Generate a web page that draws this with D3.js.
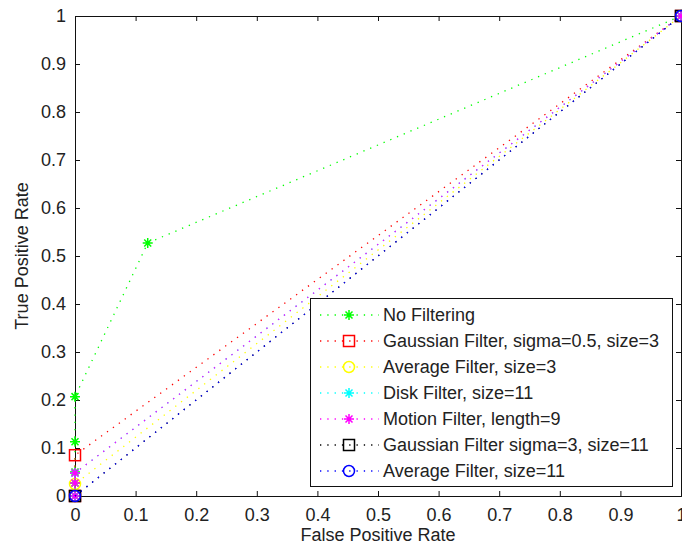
<!DOCTYPE html>
<html>
<head>
<meta charset="utf-8">
<script src="https://cdn.jsdelivr.net/npm/d3@7"></script>
<style>
  body { margin: 0; background: #fff; }
  text { font-family: "Liberation Sans", Arial, sans-serif; fill: #222; }
</style>
</head>
<body>
<div id="chart"></div>
<script>
// ROC curves, one array per series
var seriesNames = ["No Filtering", "Gaussian Filter, sigma=0.5, size=3", "Average Filter, size=3",
  "Disk Filter, size=11", "Motion Filter, length=9", "Gaussian Filter sigma=3, size=11", "Average Filter, size=11"];
var seriesColors = ["#00ff00", "#ff0000", "#ffff00", "#00ffff", "#ff00ff", "#000000", "#0000ff"];
var seriesMarkers = ["star", "square", "circle", "star", "star", "square", "circle"];

var fprNoFilter = [0, 0, 0, 0, 0, 0.12, 1];
var tprNoFilter = [0, 0.027, 0.05, 0.113, 0.207, 0.527, 1];
var fprGauss05 = [0, 0, 1];
var tprGauss05 = [0, 0.085, 1];
var fprAvg3 = [0, 0, 1];
var tprAvg3 = [0, 0.025, 1];
var fprDisk = [0, 0, 1];
var tprDisk = [0, 0.048, 1];
var fprMotion = [0, 0, 0, 1];
var tprMotion = [0, 0.027, 0.048, 1];
var fprGauss3 = [0, 1];
var tprGauss3 = [0, 1];
var fprAvg11 = [0, 1];
var tprAvg11 = [0, 1];

var allFpr = [fprNoFilter, fprGauss05, fprAvg3, fprDisk, fprMotion, fprGauss3, fprAvg11];
var allTpr = [tprNoFilter, tprGauss05, tprAvg3, tprDisk, tprMotion, tprGauss3, tprAvg11];

var tickValues = [0, 0.1, 0.2, 0.3, 0.4, 0.5, 0.6, 0.7, 0.8, 0.9, 1];

var w = 682, h = 550;
var m = { left: 75, right: 681, top: 16, bottom: 496 };

var svg = d3.select("#chart").append("svg")
  .attr("width", w)
  .attr("height", h);

var xScale = d3.scaleLinear().domain([0, 1]).range([m.left, m.right]);
var yScale = d3.scaleLinear().domain([0, 1]).range([m.bottom, m.top]);

var fmt = function(d) { return d === 0 ? "0" : d === 1 ? "1" : d3.format(".1f")(d); };

// axes, MATLAB style: ticks pointing inward, box on all sides
svg.append("g")
  .attr("class", "x axis")
  .attr("transform", "translate(0," + m.bottom + ")")
  .call(d3.axisBottom(xScale).tickValues(tickValues).tickSize(-5).tickPadding(12).tickFormat(fmt));
svg.append("g")
  .attr("class", "x axis top")
  .attr("transform", "translate(0," + m.top + ")")
  .call(d3.axisTop(xScale).tickValues(tickValues).tickSize(-5).tickFormat(""));
svg.append("g")
  .attr("class", "y axis")
  .attr("transform", "translate(" + m.left + ",0)")
  .call(d3.axisLeft(yScale).tickValues(tickValues).tickSize(-5).tickPadding(9).tickFormat(fmt));
svg.append("g")
  .attr("class", "y axis right")
  .attr("transform", "translate(" + m.right + ",0)")
  .call(d3.axisRight(yScale).tickValues(tickValues).tickSize(-5).tickFormat(""));

svg.selectAll(".axis path, .axis line").attr("stroke", "#111").attr("stroke-width", 1);
svg.selectAll(".axis text").attr("font-size", "18px").attr("fill", "#222")
  .attr("font-family", "Liberation Sans, Arial, sans-serif");

// draw a marker at (x, y)
function drawMarker(g, type, x, y, color) {
  if (type === "star") {
    var p = "M" + (x - 5) + "," + y + "H" + (x + 5) + "M" + x + "," + (y - 5) + "V" + (y + 5) +
      "M" + (x - 3.5) + "," + (y - 3.5) + "L" + (x + 3.5) + "," + (y + 3.5) +
      "M" + (x - 3.5) + "," + (y + 3.5) + "L" + (x + 3.5) + "," + (y - 3.5);
    g.append("path").attr("d", p).attr("stroke", color).attr("stroke-width", 1.5).attr("fill", "none");
  } else if (type === "square") {
    g.append("rect").attr("x", x - 5.5).attr("y", y - 5.5).attr("width", 11).attr("height", 11)
      .attr("stroke", color).attr("stroke-width", 1.5).attr("fill", "none");
  } else {
    g.append("circle").attr("cx", x).attr("cy", y).attr("r", 5.5)
      .attr("stroke", color).attr("stroke-width", 1.5).attr("fill", "none");
  }
}

var line = d3.line()
  .x(function(d) { return xScale(d[0]); })
  .y(function(d) { return yScale(d[1]); });

var plot = svg.append("g").attr("class", "plot");

seriesNames.forEach(function(name, i) {
  var pts = allFpr[i].map(function(x, j) { return [x, allTpr[i][j]]; });
  plot.append("path")
    .datum(pts)
    .attr("d", line)
    .attr("fill", "none")
    .attr("stroke", seriesColors[i])
    .attr("stroke-width", 1.3)
    .attr("stroke-dasharray", "1.3,6");
  pts.forEach(function(p) {
    drawMarker(plot, seriesMarkers[i], xScale(p[0]), yScale(p[1]), seriesColors[i]);
  });
});

// legend
var legend = svg.append("g").attr("class", "legend");
legend.append("rect")
  .attr("x", 310.5).attr("y", 298.5)
  .attr("width", 362).attr("height", 188)
  .attr("fill", "#fff").attr("stroke", "#111").attr("stroke-width", 1);

seriesNames.forEach(function(name, i) {
  var ly = 315 + i * 26;
  legend.append("line")
    .attr("x1", 320).attr("x2", 379).attr("y1", ly).attr("y2", ly)
    .attr("stroke", seriesColors[i]).attr("stroke-width", 1.3)
    .attr("stroke-dasharray", "1.3,6");
  drawMarker(legend, seriesMarkers[i], 349, ly, seriesColors[i]);
  legend.append("text")
    .attr("x", 383).attr("y", ly)
    .attr("dy", "0.36em")
    .attr("font-size", "18px")
    .text(name);
});

// axis titles
svg.append("text")
  .attr("x", (m.left + m.right) / 2)
  .attr("y", 541)
  .style("text-anchor", "middle")
  .attr("font-size", "18px")
  .text("False Positive Rate");

svg.append("text")
  .attr("transform", "translate(28," + ((m.top + m.bottom) / 2) + ") rotate(-90)")
  .style("text-anchor", "middle")
  .attr("font-size", "18px")
  .text("True Positive Rate");
</script>
</body>
</html>
